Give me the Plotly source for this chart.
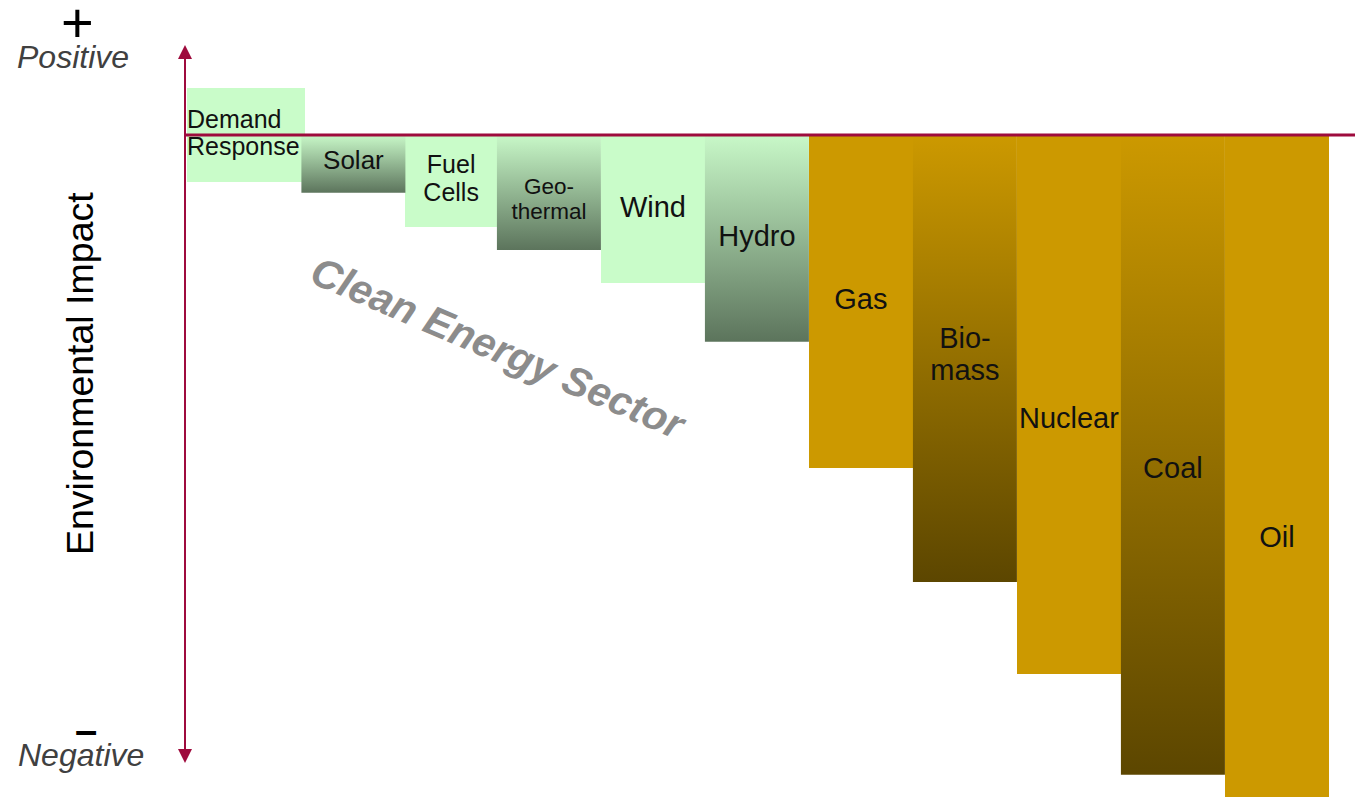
import plotly.graph_objects as go

# ---- data -------------------------------------------------------------
sources = ["Demand Response", "Solar", "Fuel Cells", "Geothermal", "Wind", "Hydro",
           "Gas", "Biomass", "Nuclear", "Coal", "Oil"]
bar_labels = ["Demand<br>Response", "Solar", "Fuel<br>Cells", "Geo-<br>thermal", "Wind", "Hydro",
              "Gas", "Bio-<br>mass", "Nuclear", "Coal", "Oil"]
# environmental impact range of each source (0 = neutral line)
impact_high = [0.71, 0, 0, 0, 0, 0, 0, 0, 0, 0, 0]
impact_low = [-0.71, -0.87, -1.38, -1.73, -2.23, -3.11, -5.0, -6.72, -8.1, -9.62, -10.0]

# ---- layout / style ----------------------------------------------------
W, H = 1355, 797
slot_widths = [1.1, 1.0, 0.88, 1.0, 1.0, 1.0, 1.0, 1.0, 1.0, 1.0, 1.0]
draw_widths = [1.13, 1.0, 0.88, 1.0, 1.0, 1.0, 1.0, 1.0, 1.0, 1.0, 1.0]
gradient = [False, True, False, True, False, True, False, True, False, True, False]
clean = [True] * 6 + [False] * 5
label_y = [0.0, -0.42, -0.69, -0.99, -1.13, -1.56, -2.50, -3.33, -4.29, -5.05, -6.09]
label_size = [25, 26, 25, 22.5, 29, 29, 29, 29, 29, 29, 29]

PX_X = 104.0      # pixels per slot
PX_Y = 66.5       # pixels per impact unit
X0_PX, Y0_PX = 187, 135
x_range = [-X0_PX / PX_X, (W - X0_PX) / PX_X]
y_range = [-(H - Y0_PX) / PX_Y, Y0_PX / PX_Y]

LIGHT_GREEN = "#C9FCC9"
GOLD = "#CC9900"
GREEN_SCALE = [[0, "#5C745C"], [1, "#C8F8C8"]]
GOLD_SCALE = [[0, "#5C4600"], [1, "#CC9900"]]
RED = "#9E0B3D"
FONT = "Liberation Sans, Arial, sans-serif"

lefts = []
acc = 0.0
for w in slot_widths:
    lefts.append(acc)
    acc += w

fig = go.Figure()

# solid bars
solid = [i for i in range(len(sources)) if not gradient[i]]
fig.add_trace(go.Bar(
    x=[lefts[i] + draw_widths[i] / 2 for i in solid],
    y=[impact_high[i] - impact_low[i] for i in solid],
    base=[impact_low[i] for i in solid],
    width=[draw_widths[i] for i in solid],
    marker=dict(color=[LIGHT_GREEN if clean[i] else GOLD for i in solid], line=dict(width=0)),
    hovertext=[sources[i] for i in solid], hoverinfo="text", showlegend=False,
))


def label_points(idx):
    xs, ys, ts, sizes, pos = [], [], [], [], []
    for i in idx:
        lines = bar_labels[i].split("<br>")
        gap = 1.1 * label_size[i] / PX_Y
        for k, line in enumerate(lines):
            if i == 0:
                xs.append(lefts[i])
                pos.append("middle right")
            else:
                xs.append(lefts[i] + draw_widths[i] / 2)
                pos.append("middle center")
            ys.append(label_y[i] - (k - (len(lines) - 1) / 2) * gap)
            ts.append(line)
            sizes.append(label_size[i])
    return go.Scatter(x=xs, y=ys, text=ts, mode="text", textposition=pos,
                      textfont=dict(family=FONT, size=sizes, color="#111111"),
                      hoverinfo="skip", showlegend=False)


# the first label sits beneath the neighbouring gradient bar
fig.add_trace(label_points([0]))

# gradient bars as filled rectangles
for i in range(len(sources)):
    if not gradient[i]:
        continue
    l, r = lefts[i], lefts[i] + draw_widths[i]
    lo, hi = impact_low[i], impact_high[i]
    fig.add_trace(go.Scatter(
        x=[l, r, r, l, l], y=[hi, hi, lo, lo, hi],
        mode="lines", line=dict(width=0), fill="toself",
        fillgradient=dict(type="vertical", colorscale=GREEN_SCALE if clean[i] else GOLD_SCALE),
        hoverinfo="text", hovertext=sources[i], showlegend=False,
    ))

fig.add_trace(label_points(range(1, len(sources))))

# neutral line
axis_x = -2 / PX_X
fig.add_shape(type="line", x0=axis_x, x1=x_range[1], y0=0, y1=0,
              line=dict(color=RED, width=3), layer="above")

# vertical impact arrow (both directions)
top_tip = (Y0_PX - 45) / PX_Y
bot_tip = -(763 - Y0_PX) / PX_Y
mid = (top_tip + bot_tip) / 2
fig.add_shape(type="line", x0=axis_x, x1=axis_x, y0=top_tip - 0.15, y1=bot_tip + 0.15,
              line=dict(color=RED, width=2), layer="above")
for tip in (top_tip, bot_tip):
    fig.add_annotation(x=axis_x, y=tip, ax=axis_x, ay=mid, xref="x", yref="y",
                       axref="x", ayref="y", text="", showarrow=True,
                       arrowhead=2, arrowsize=1.4, arrowwidth=2, arrowcolor=RED)


def px(xp, yp):
    return dict(xref="paper", yref="paper", x=xp / W, y=1 - yp / H,
                xanchor="center", yanchor="middle", showarrow=False)


fig.add_annotation(**px(77, 23), text="+", font=dict(family=FONT, size=56, color="#000000"))
fig.add_annotation(**px(73, 57), text="<i>Positive</i>", font=dict(family=FONT, size=32, color="#404040"))
fig.add_annotation(**px(86, 730), text="<b>–</b>", font=dict(family=FONT, size=40, color="#000000"))
fig.add_annotation(**px(81, 755), text="<i>Negative</i>", font=dict(family=FONT, size=32, color="#404040"))
fig.add_annotation(**px(80, 374), text="Environmental Impact", textangle=-90,
                   font=dict(family=FONT, size=37.5, color="#000000"))
fig.add_annotation(**px(498, 348), text="<b><i>Clean Energy Sector</i></b>", textangle=23.2,
                   font=dict(family=FONT, size=41, color="#8C8C8C"))

fig.update_xaxes(range=x_range, visible=False, fixedrange=True)
fig.update_yaxes(range=y_range, visible=False, fixedrange=True)
fig.update_layout(
    width=W, height=H, autosize=False,
    margin=dict(l=0, r=0, t=0, b=0),
    paper_bgcolor="white", plot_bgcolor="white",
    barmode="overlay", bargap=0, showlegend=False,
)

fig.write_html("out.html")
